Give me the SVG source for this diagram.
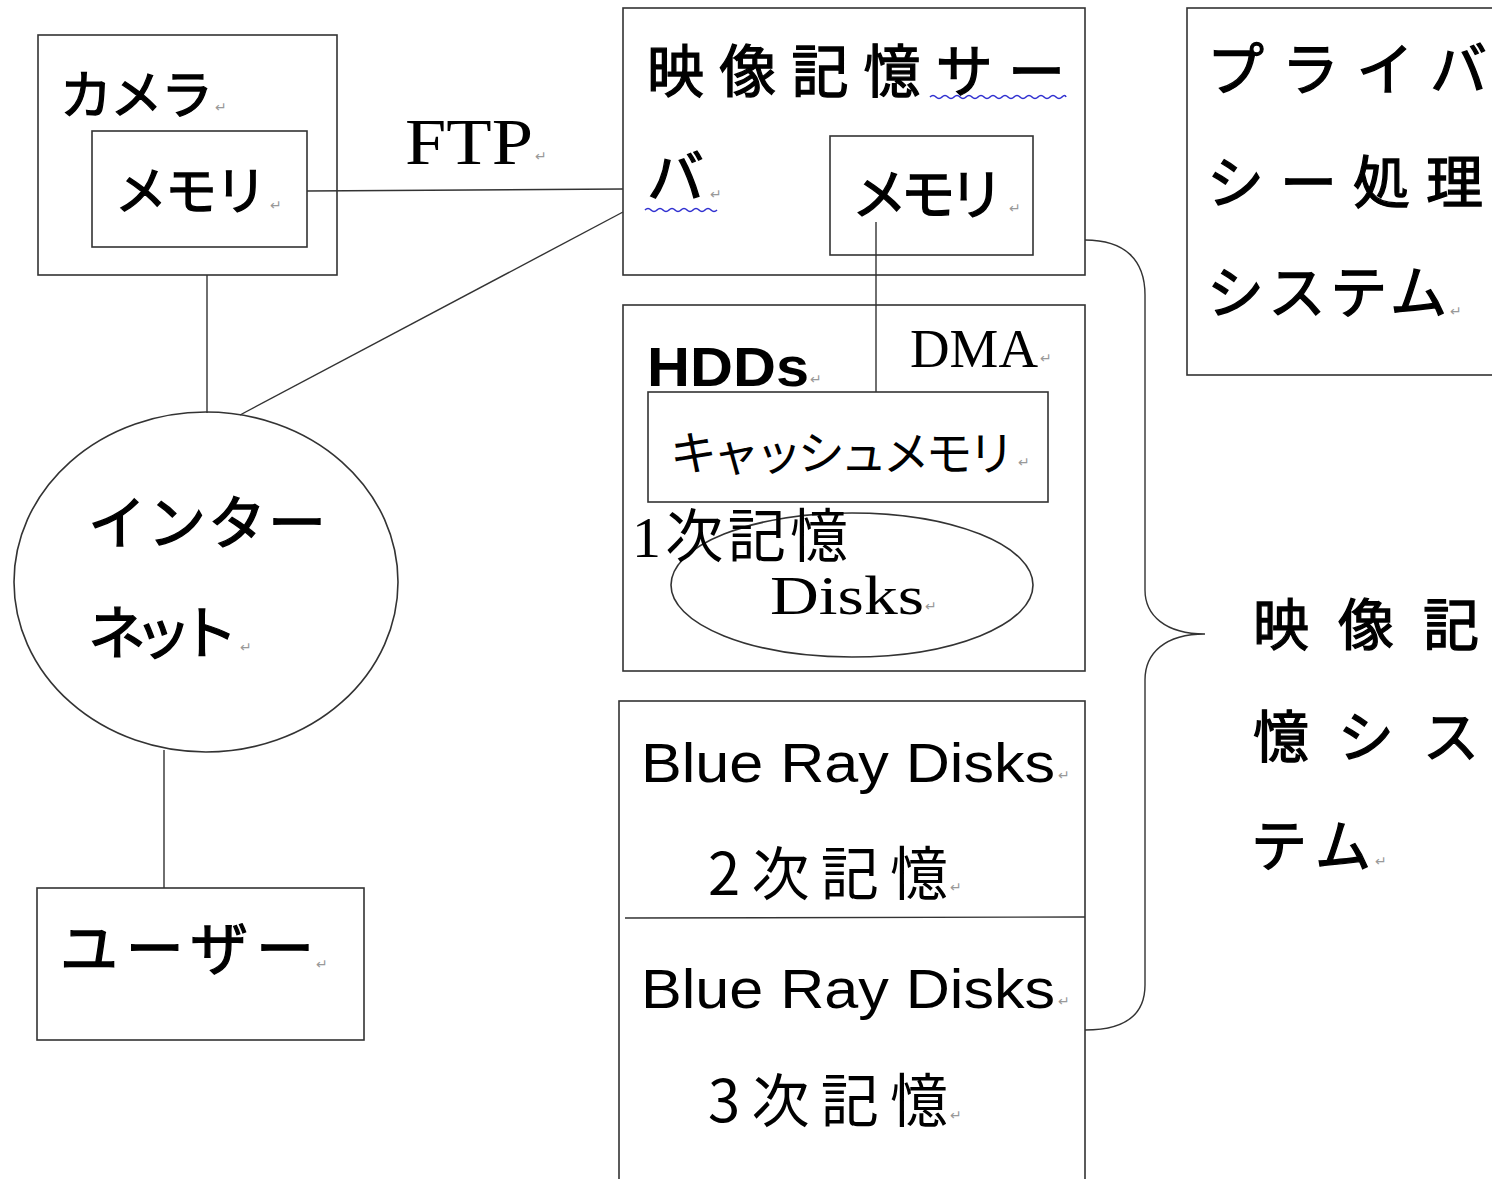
<svg xmlns="http://www.w3.org/2000/svg" width="1492" height="1179" viewBox="0 0 1492 1179">
<style>
.box{fill:none;stroke:#333;stroke-width:1.6}
.ln{fill:none;stroke:#333;stroke-width:1.4}
.jp{font-family:"Noto Sans CJK JP","Noto Sans",sans-serif;fill:#000}
.b{stroke:#000;stroke-width:1.3}
.sans{font-family:"Liberation Sans",Arial,sans-serif;fill:#000}
.serif{font-family:"Liberation Serif","Times New Roman",serif;fill:#000}
.pm{font-family:"DejaVu Sans",sans-serif;font-size:14px;fill:#999}
.wave{fill:none;stroke:#3030d0;stroke-width:1.6}
</style>
<rect width="1492" height="1179" fill="#fff"/>
<g id="connectors">
<line class="ln" x1="307" y1="191" x2="623" y2="189"/>
<line class="ln" x1="207" y1="275" x2="207" y2="413"/>
<line class="ln" x1="623" y1="212" x2="240" y2="415"/>
<line class="ln" x1="164" y1="750" x2="164" y2="888"/>
<line class="ln" x1="876" y1="222" x2="876" y2="392"/>
<path class="ln" d="M1085,240 C1125,240 1145,260 1145,295 L1145,590 C1145,615 1165,634 1205,634 C1165,634 1145,653 1145,680 L1145,985 C1145,1015 1125,1030 1085,1030"/>
<text class="serif" x="405" y="164" font-size="66" textLength="128" lengthAdjust="spacingAndGlyphs">FTP</text>
<text class="pm" x="535" y="161">↵</text>
<text class="serif" x="910" y="367" font-size="55" textLength="128" lengthAdjust="spacingAndGlyphs">DMA</text>
<text class="pm" x="1040" y="363">↵</text>
</g>
<g id="camera">
<rect class="box" x="38" y="35" width="299" height="240"/>
<text class="jp b" x="60" y="114" font-size="52" textLength="153">カメラ</text>
<text class="pm" x="215" y="112">↵</text>
</g>
<g id="camera-memory">
<rect class="box" x="92" y="131" width="215" height="116"/>
<text class="jp b" x="115" y="210" font-size="52" textLength="152">メモリ</text>
<text class="pm" x="270" y="210">↵</text>
</g>
<g id="server">
<rect class="box" x="623" y="8" width="462" height="267"/>
<text class="jp b" x="647" y="92" font-size="57" textLength="418">映像記憶サー</text>
<path class="wave" d="M930,97 q3,-3 6,0 t6,0 t6,0 t6,0 t6,0 t6,0 t6,0 t6,0 t6,0 t6,0 t6,0 t6,0 t6,0 t6,0 t6,0 t6,0 t6,0 t6,0 t6,0 t6,0 t6,0 t6,0 t4,0"/>
<text class="jp b" x="647" y="198" font-size="57">バ</text>
<path class="wave" d="M645,210 q3,-3 6,0 t6,0 t6,0 t6,0 t6,0 t6,0 t6,0 t6,0 t6,0 t6,0 t6,0 t6,0"/>
<text class="pm" x="710" y="199">↵</text>
</g>
<g id="server-memory">
<rect class="box" x="830" y="136" width="203" height="119"/>
<text class="jp b" x="852" y="214" font-size="55" textLength="152">メモリ</text>
<text class="pm" x="1009" y="213">↵</text>
</g>
<g id="hdds">
<rect class="box" x="623" y="305" width="462" height="366"/>
<text class="sans" x="647" y="386" font-size="55" font-weight="bold" textLength="162" lengthAdjust="spacingAndGlyphs">HDDs</text>
<text class="pm" x="810" y="384">↵</text>
</g>
<g id="cache">
<rect class="box" x="648" y="392" width="400" height="110"/>
<text class="jp" x="670" y="470" font-size="47" textLength="345">キャッシュメモリ</text>
<text class="pm" x="1018" y="467">↵</text>
</g>
<g id="disks">
<ellipse class="box" cx="852" cy="585" rx="181" ry="72"/>
<text class="serif" x="770" y="614" font-size="54" textLength="154" lengthAdjust="spacingAndGlyphs">Disks</text>
<text class="pm" x="925" y="611">↵</text>
<text x="632" y="557" font-size="58" textLength="216"><tspan class="serif">1</tspan><tspan class="jp">次記憶</tspan></text>
</g>
<g id="bluray">
<rect class="box" x="619" y="701" width="466" height="490"/>
<line class="ln" x1="625" y1="918" x2="1085" y2="917"/>
<text class="sans" x="641" y="782" font-size="56" textLength="414" lengthAdjust="spacingAndGlyphs">Blue Ray Disks</text>
<text class="pm" x="1058" y="780">↵</text>
<text class="jp" x="708" y="895" font-size="58" textLength="240">2次記憶</text>
<text class="pm" x="950" y="892">↵</text>
<text class="sans" x="641" y="1008" font-size="56" textLength="414" lengthAdjust="spacingAndGlyphs">Blue Ray Disks</text>
<text class="pm" x="1058" y="1006">↵</text>
<text class="jp" x="708" y="1122" font-size="58" textLength="240">3次記憶</text>
<text class="pm" x="950" y="1120">↵</text>
</g>
<g id="privacy">
<rect class="box" x="1187" y="8" width="320" height="367"/>
<text class="jp b" x="1207" y="90" font-size="57" textLength="280">プライバ</text>
<text class="jp b" x="1207" y="203" font-size="57" textLength="276">シー処理</text>
<text class="jp b" x="1207" y="313" font-size="57" textLength="240">システム</text>
<text class="pm" x="1450" y="316">↵</text>
</g>
<g id="storage-system">
<text class="jp b" x="1253" y="645" font-size="56" textLength="226">映像記</text>
<text class="jp b" x="1253" y="757" font-size="56" textLength="226">憶シス</text>
<text class="jp b" x="1251" y="866" font-size="56" textLength="120">テム</text>
<text class="pm" x="1375" y="866">↵</text>
</g>
<g id="internet">
<ellipse class="box" cx="206" cy="582" rx="192" ry="170"/>
<text class="jp b" x="88" y="544" font-size="58" textLength="238">インター</text>
<text class="jp b" x="88" y="654" font-size="58" textLength="150">ネット</text>
<text class="pm" x="240" y="652">↵</text>
</g>
<g id="user">
<rect class="box" x="37" y="888" width="327" height="152"/>
<text class="jp b" x="60" y="970" font-size="58" textLength="254">ユーザー</text>
<text class="pm" x="316" y="969">↵</text>
</g>
</svg>
